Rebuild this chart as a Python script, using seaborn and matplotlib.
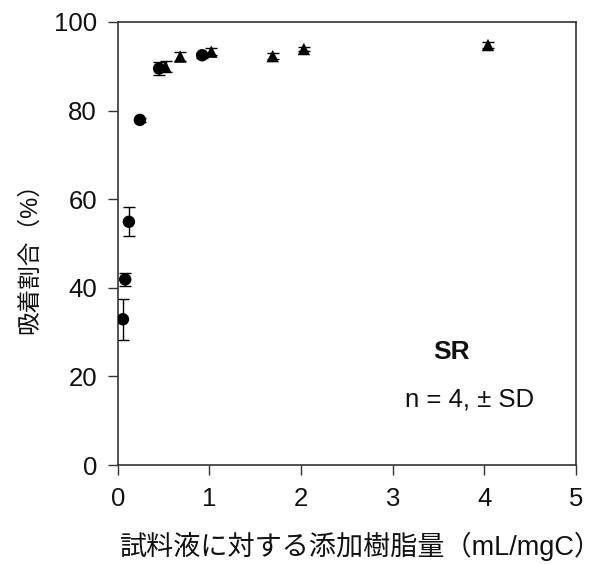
import pandas as pd
import matplotlib
matplotlib.use("Agg")
import matplotlib.pyplot as plt
import seaborn as sns

# データ
circle_x = [0.055, 0.08, 0.12, 0.24, 0.45, 0.92]
circle_y = [32.9, 41.9, 54.9, 77.9, 89.5, 92.5]
circle_sd = [4.6, 1.4, 3.3, 0.5, 1.5, 0.6]

tri_x = [0.52, 0.68, 1.02, 1.69, 2.03, 4.04]
tri_y = [89.9, 92.2, 93.3, 92.3, 93.9, 94.8]
tri_sd = [1.2, 1.0, 0.8, 0.6, 0.5, 0.6]

x_ticks = [0, 1, 2, 3, 4, 5]
y_ticks = [0, 20, 40, 60, 80, 100]

sns.set_style("ticks")
plt.rcParams['font.family'] = ['Liberation Sans', 'Noto Sans CJK JP']

df = pd.DataFrame({
    'x': circle_x + tri_x,
    'y': circle_y + tri_y,
    'sd': circle_sd + tri_sd,
    'kind': ['circle'] * len(circle_x) + ['triangle'] * len(tri_x),
})

fig = plt.figure(figsize=(6.14, 5.64), dpi=100)
ax = fig.add_axes([0.192, 0.1755, 0.746, 0.7855])

ax.errorbar(df['x'], df['y'], yerr=df['sd'], fmt='none',
            ecolor='black', elinewidth=1, capsize=4, capthick=1, zorder=2)
sns.scatterplot(data=df, x='x', y='y', style='kind',
                markers={'circle': 'o', 'triangle': '^'},
                color='black', s=80, edgecolor='black', linewidth=0,
                legend=False, ax=ax, zorder=3)

ax.set_xlim(0, 5)
ax.set_ylim(0, 100)
ax.set_xticks(x_ticks)
ax.set_yticks(y_ticks)
ax.tick_params(axis='both', labelsize=18.5, length=7, width=1, direction='out',
               color='#333333', labelcolor='#111111')
ax.tick_params(axis='x', pad=9)
ax.tick_params(axis='y', pad=8)
for sp in ax.spines.values():
    sp.set_visible(True)
    sp.set_linewidth(1.2)
    sp.set_color('#333333')

ax.set_xlabel('試料液に対する添加樹脂量（mL/mgC）', fontsize=19.5, color='#111111')
ax.xaxis.set_label_coords(0.53, -0.15)
ax.set_ylabel('吸着割合（%）', fontsize=17, color='#111111')
ax.yaxis.set_label_coords(-0.168, 0.48)

ax.text(3.64, 25.5, 'SR', fontsize=19, fontweight='bold', ha='center', va='center',
        color='#111111')
ax.text(3.84, 14.7, 'n = 4, ± SD', fontsize=18.5, ha='center', va='center',
        color='#111111')

plt.savefig('out.png', dpi=100)
